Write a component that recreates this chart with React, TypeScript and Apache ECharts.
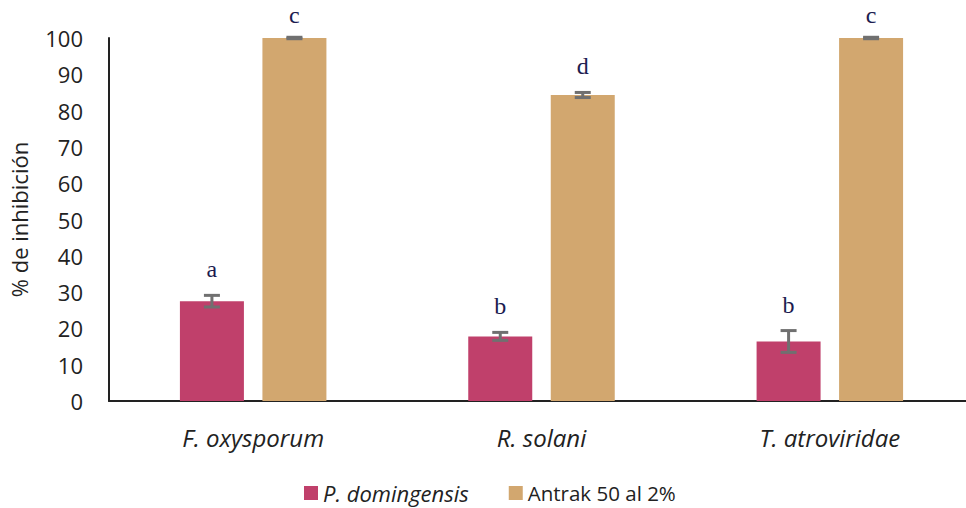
import React, { useEffect, useRef } from "react";
import * as echarts from "echarts";

const categories = ["F. oxysporum", "R. solani", "T. atroviridae"];
const seriesNames = ["P. domingensis", "Antrak 50 al 2%"];
const pdValues = [27.5, 17.8, 16.4];
const pdErrors = [1.6, 1.1, 3.0];
const pdLetters = ["a", "b", "b"];
const anValues = [100, 84.3, 100];
const anErrors = [0.2, 0.7, 0.2];
const anLetters = ["c", "d", "c"];
const yTicks = { min: 0, max: 100, interval: 10 };

const COLORS = ["#C0406B", "#D2A76F"];
const BAR_W = 64;
const BAR_GAP = 18.5;
const FONT = "Open Sans";

export default function App() {
  const ref = useRef<HTMLDivElement>(null);
  useEffect(() => {
    if (!ref.current) return;
    const chart = echarts.init(ref.current, undefined, { renderer: "svg" });
    const errSeries = (vals: number[], errs: number[], letters: string[], sign: number) => ({
      type: "custom",
      z: 10,
      clip: false,
      data: vals.map((v, i) => [i, v, errs[i]]),
      renderItem: (params: any, api: any) => {
        const i = api.value(0);
        const v = api.value(1);
        const e = api.value(2);
        const letter = letters[params.dataIndex];
        const c = api.coord([i, v]);
        const x = c[0] + (sign * (BAR_W + BAR_GAP)) / 2;
        const yHi = api.coord([i, v + e])[1];
        const yLo = api.coord([i, v - e])[1];
        const style = { stroke: "#707070", lineWidth: 3 };
        const cap = 8;
        return {
          type: "group",
          children: [
            { type: "line", shape: { x1: x, y1: yHi, x2: x, y2: yLo }, style },
            { type: "line", shape: { x1: x - cap, y1: yHi, x2: x + cap, y2: yHi }, style },
            { type: "line", shape: { x1: x - cap, y1: yLo, x2: x + cap, y2: yLo }, style },
            {
              type: "text",
              x: x,
              y: Math.max(yHi - 14, 27),
              style: {
                text: letter,
                fill: "#1c1c50",
                font: "24px 'Liberation Serif'",
                align: "center",
                verticalAlign: "bottom",
              },
            },
          ],
        };
      },
    });
    chart.setOption({
      animation: false,
      grid: { left: 108, right: 0, top: 38, bottom: 107 },
      legend: {
        top: 482,
        padding: 0,
        left: 304,
        itemWidth: 14,
        itemHeight: 14,
        itemGap: 40,
        icon: "rect",
        data: seriesNames,
        textStyle: {
          fontFamily: FONT,
          fontSize: 20,
          color: "#222",
          rich: {
            i: { fontStyle: "italic", fontFamily: FONT, fontSize: 22, color: "#222" },
            r: { fontFamily: FONT, fontSize: 20.5, color: "#222" },
          },
        },
        formatter: (name: string) => (name === seriesNames[0] ? `{i|${name}}` : `{r|${name}}`),
      },
      xAxis: {
        type: "category",
        data: categories,
        axisLine: { lineStyle: { color: "#222", width: 2 } },
        axisTick: { show: false },
        axisLabel: {
          fontFamily: FONT,
          fontStyle: "italic",
          fontSize: 24,
          color: "#222",
          margin: 24,
        },
      },
      yAxis: {
        type: "value",
        min: yTicks.min,
        max: yTicks.max,
        interval: yTicks.interval,
        name: "% de inhibición",
        nameLocation: "middle",
        nameRotate: 90,
        nameGap: 79,
        nameTextStyle: { fontFamily: FONT, fontSize: 22, color: "#222" },
        splitLine: { show: false },
        axisLine: { show: true, lineStyle: { color: "#222", width: 2 } },
        axisTick: { show: false },
        axisLabel: { fontFamily: FONT, fontSize: 22, color: "#222", margin: 26 },
      },
      series: [
        {
          name: seriesNames[0],
          type: "bar",
          data: pdValues,
          barWidth: BAR_W,
          barGap: `${(BAR_GAP / BAR_W) * 100}%`,
          itemStyle: { color: COLORS[0] },
        },
        {
          name: seriesNames[1],
          type: "bar",
          data: anValues,
          barWidth: BAR_W,
          itemStyle: { color: COLORS[1] },
        },
        errSeries(pdValues, pdErrors, pdLetters, -1),
        errSeries(anValues, anErrors, anLetters, 1),
      ],
    });
    return () => chart.dispose();
  }, []);
  return (
    <div
      style={{
        position: "absolute",
        left: 0,
        top: 0,
        width: 966,
        height: 508,
        overflow: "hidden",
      }}
    >
      <div ref={ref} style={{ width: 974, height: 508 }} />
    </div>
  );
}
